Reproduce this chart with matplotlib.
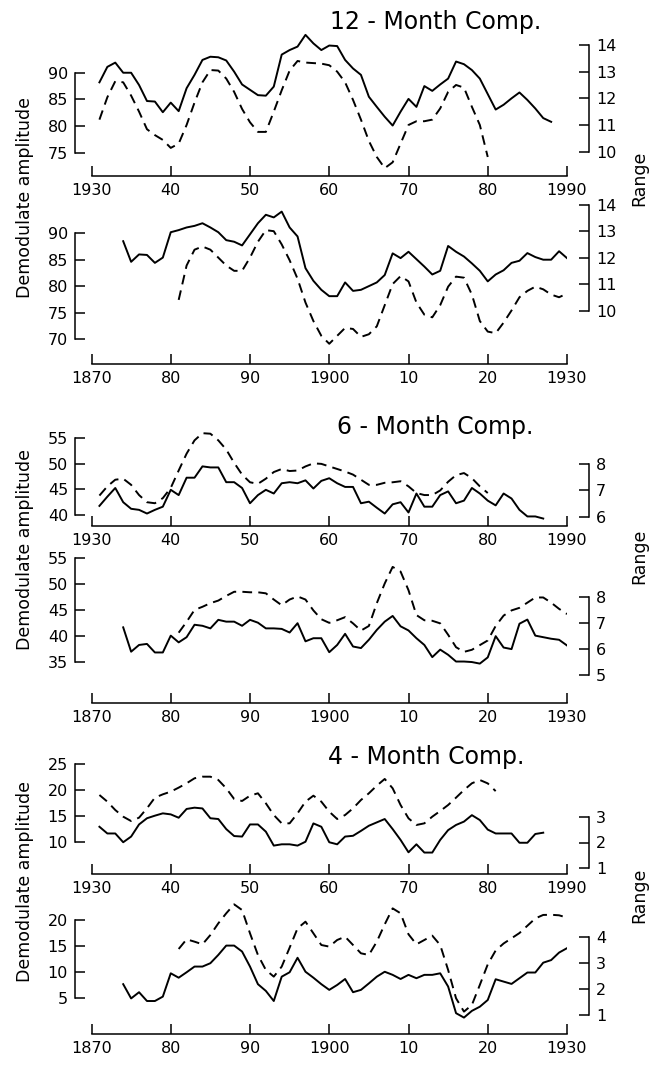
import numpy as np
import matplotlib.pyplot as plt

plt.rcParams['font.family'] = ['DejaVu Sans']

W, H = 651, 1066
fig = plt.figure(figsize=(W / 100, H / 100), dpi=100)

# ---------------- data ----------------
# 12-month component, 1930-1990
yr12a_amp = list(range(1931, 1981))
amp12a = [81.2, 85.4, 88.4, 88.2, 85.7, 82.7, 79.4, 78.3, 77.4, 75.9,
          76.7, 80.2, 84.4, 88.2, 90.5, 90.4, 88.9, 86.4, 83.2, 80.7,
          78.9, 78.9, 82.7, 86.7, 90.4, 92.2, 91.9, 91.8, 91.7, 91.4,
          90.2, 88.2, 84.9, 81.2, 77.2, 74.2, 72.1, 73.2, 76.7, 80.2,
          80.9, 80.9, 81.2, 83.3, 86.4, 87.7, 87.2, 83.6, 80.2, 74.2]
yr12a_rng = list(range(1931, 1989))
rng12a = [12.60, 13.18, 13.34, 12.96, 12.96, 12.50, 11.90, 11.88, 11.48, 11.84,
          11.52, 12.38, 12.88, 13.44, 13.56, 13.54, 13.42, 13.00, 12.52, 12.32,
          12.12, 12.10, 12.44, 13.64, 13.81, 13.94, 14.38, 14.06, 13.81, 13.98,
          13.96, 13.44, 13.12, 12.88, 12.06, 11.68, 11.31, 10.98, 11.50, 11.98,
          11.68, 12.46, 12.28, 12.52, 12.74, 13.38, 13.28, 13.06, 12.74, 12.16,
          11.58, 11.76, 12.00, 12.22, 11.94, 11.62, 11.26, 11.12]

# 12-month component, 1870-1930
yr12b_amp = list(range(1881, 1931))
amp12b = [77.4, 83.9, 86.9, 87.5, 86.9, 85.4, 83.9, 82.9, 82.9, 85.4,
          88.4, 90.6, 90.4, 87.9, 84.9, 81.4, 76.9, 73.4, 70.6, 69.1,
          70.6, 72.1, 71.9, 70.4, 70.9, 72.4, 76.4, 80.4, 81.9, 80.9,
          76.9, 74.6, 74.1, 76.4, 79.9, 81.8, 81.6, 78.4, 73.4, 71.4,
          71.1, 73.1, 75.4, 77.9, 79.1, 79.9, 79.4, 78.4, 77.9, 78.6]
yr12b_rng = list(range(1874, 1931))
rng12b = [12.63, 11.85, 12.13, 12.11, 11.81, 12.01,
          12.97, 13.05, 13.15, 13.21, 13.31, 13.15, 12.97, 12.67, 12.61, 12.47,
          12.89, 13.31, 13.63, 13.53, 13.75, 13.15, 12.81, 11.61, 11.13, 10.79,
          10.55, 10.55, 11.07, 10.75, 10.79, 10.93, 11.07, 11.35, 12.17, 11.99,
          12.23, 11.95, 11.67, 11.37, 11.51, 12.45, 12.23, 12.05, 11.79, 11.51,
          11.11, 11.37, 11.53, 11.81, 11.89, 12.18, 12.03, 11.93, 11.93, 12.25, 11.99]

# 6-month component, 1930-1990
yr6a_amp = list(range(1931, 1981))
amp6a = [43.8, 45.6, 46.9, 47.1, 45.9, 43.9, 42.5, 42.3, 43.3, 45.3,
         48.7, 52.0, 54.6, 56.0, 55.9, 54.6, 52.8, 50.2, 47.9, 46.4,
         46.1, 47.1, 48.4, 49.0, 48.6, 48.7, 49.5, 50.1, 50.0, 49.5,
         49.0, 48.5, 47.9, 46.9, 45.9, 45.9, 46.3, 46.4, 46.6, 45.6,
         44.3, 43.9, 43.9, 44.8, 46.5, 47.8, 48.2, 47.2, 45.6, 44.3]
yr6a_rng = list(range(1931, 1988))
rng6a = [6.41, 6.76, 7.09, 6.55, 6.30, 6.26, 6.12, 6.26, 6.38, 7.02,
         6.82, 7.48, 7.48, 7.91, 7.87, 7.87, 7.31, 7.31, 7.09, 6.51,
         6.82, 7.02, 6.88, 7.27, 7.31, 7.27, 7.38, 7.07, 7.36, 7.46,
         7.27, 7.13, 7.13, 6.51, 6.57, 6.34, 6.12, 6.47, 6.55, 6.16,
         6.88, 6.38, 6.38, 6.82, 6.96, 6.51, 6.61, 7.09, 6.88, 6.61,
         6.43, 6.88, 6.69, 6.26, 6.01, 6.01, 5.93]

# 6-month component, 1870-1930
yr6b_amp = list(range(1881, 1931))
amp6b = [40.6, 42.7, 45.0, 45.6, 46.3, 46.8, 47.7, 48.5, 48.5, 48.4,
         48.4, 48.2, 47.0, 45.9, 47.0, 47.6, 47.0, 44.9, 43.2, 42.5,
         43.0, 43.6, 42.4, 41.0, 41.9, 46.3, 50.1, 53.3, 52.4, 48.8,
         44.0, 43.0, 42.9, 42.4, 40.2, 37.8, 36.9, 37.3, 38.2, 39.1,
         41.9, 43.9, 44.9, 45.4, 46.4, 47.4, 47.4, 46.4, 45.2, 44.2]
yr6b_rng = list(range(1874, 1931))
rng6b = [6.84, 5.90, 6.16, 6.20, 5.87, 5.87,
         6.52, 6.26, 6.46, 6.94, 6.90, 6.80, 7.13, 7.06, 7.06, 6.90,
         7.13, 7.02, 6.80, 6.80, 6.78, 6.64, 7.00, 6.30, 6.42, 6.42,
         5.88, 6.16, 6.59, 6.10, 6.04, 6.36, 6.74, 7.06, 7.28, 6.88,
         6.72, 6.42, 6.16, 5.69, 5.98, 5.78, 5.52, 5.52, 5.50, 5.44,
         5.68, 6.50, 6.06, 6.00, 6.98, 7.14, 6.52, 6.46, 6.40, 6.36, 6.14]

# 4-month component, 1930-1990
yr4a_amp = list(range(1931, 1982))
amp4a = [19.05, 17.76, 16.14, 14.85, 14.0, 14.66, 16.47, 18.54, 19.18, 19.7,
         20.48, 21.32, 22.29, 22.6, 22.6, 21.96, 20.35, 18.28, 17.89, 18.92,
         19.38, 17.44, 15.17, 13.56, 13.56, 15.5, 17.76, 18.92, 17.76, 15.82,
         14.4, 15.17, 16.47, 18.08, 19.38, 20.86, 22.16, 20.35, 17.11, 14.53,
         13.24, 13.56, 14.85, 15.95, 17.11, 18.54, 20.02, 21.32, 21.96, 21.3, 19.8]
yr4a_rng = list(range(1931, 1988))
rng4a = [2.61, 2.35, 2.35, 2.01, 2.23, 2.70, 2.94, 3.04, 3.13, 3.09,
         2.96, 3.30, 3.35, 3.32, 2.94, 2.91, 2.52, 2.25, 2.23, 2.70,
         2.70, 2.42, 1.88, 1.93, 1.93, 1.88, 2.03, 2.74, 2.61, 2.01,
         1.93, 2.23, 2.26, 2.45, 2.65, 2.78, 2.91, 2.52, 2.10, 1.62,
         1.93, 1.61, 1.61, 2.10, 2.48, 2.68, 2.81, 3.06, 2.87, 2.50,
         2.35, 2.35, 2.35, 1.99, 1.99, 2.33, 2.38]

# 4-month component, 1870-1930
yr4b_amp = list(range(1881, 1931))
amp4b = [14.45, 16.3, 15.85, 15.34, 17.13, 19.36, 21.28, 23.0, 21.91, 17.45,
         13.3, 10.43, 9.15, 11.07, 14.7, 18.4, 19.68, 17.45, 15.21, 14.9,
         16.17, 16.8, 15.21, 13.62, 13.3, 15.85, 19.17, 22.23, 21.28, 17.26,
         15.34, 16.17, 17.0, 15.21, 10.43, 5.0, 2.45, 3.73, 7.56, 11.5,
         14.16, 15.5, 16.5, 17.5, 18.9, 20.3, 20.97, 21.0, 20.9, 20.45]
yr4b_rng = list(range(1874, 1931))
rng4b = [2.19, 1.64, 1.88, 1.54, 1.54, 1.71,
         2.61, 2.44, 2.65, 2.87, 2.87, 3.00, 3.32, 3.68, 3.68, 3.45,
         2.87, 2.19, 1.93, 1.54, 2.48, 2.65, 3.21, 2.67, 2.44, 2.19,
         1.97, 2.16, 2.39, 1.88, 1.97, 2.22, 2.48, 2.67, 2.55, 2.39,
         2.55, 2.42, 2.55, 2.55, 2.61, 2.10, 1.07, 0.90, 1.16, 1.32,
         1.58, 2.38, 2.29, 2.20, 2.42, 2.64, 2.64, 3.02, 3.12, 3.41, 3.58]

xlab_late = ['1930', '40', '50', '60', '70', '80', '1990']
xlab_early = ['1870', '80', '90', '1900', '10', '20', '1930']

titles = ['12 - Month Comp.', '6 - Month Comp.', '4 - Month Comp.']

# ---------------- layout (pixels in the 651x1066 picture) ----------------
X0, X1 = 91.5, 567.0          # first / last decade tick
LEFT_SPINE, RIGHT_SPINE = 75.0, 589.0

# (start year, top px, axis px, left ticks, left ref (v,px,v,px),
#  right ticks, right ref, amp years, amp, range years, range, x labels)
panels = [
    (1930, 30, 176, [75, 80, 85, 90], (90, 72.7, 75, 152.7),
     [10, 11, 12, 13, 14], (14, 45.0, 10, 151.7),
     yr12a_amp, amp12a, yr12a_rng, rng12a, xlab_late),
    (1870, 195, 364, [70, 75, 80, 85, 90], (90, 233.3, 70, 339.0),
     [10, 11, 12, 13, 14], (14, 205.0, 10, 310.7),
     yr12b_amp, amp12b, yr12b_rng, rng12b, xlab_early),
    (1930, 425, 526, [40, 45, 50, 55], (55, 438.3, 40, 515.0),
     [6, 7, 8], (8, 464.0, 6, 516.7),
     yr6a_amp, amp6a, yr6a_rng, rng6a, xlab_late),
    (1870, 550, 703, [35, 40, 45, 50, 55], (50, 584.0, 35, 661.7),
     [5, 6, 7, 8], (8, 597.3, 5, 675.0),
     yr6b_amp, amp6b, yr6b_rng, rng6b, xlab_early),
    (1930, 760, 874, [10, 15, 20, 25], (25, 764.3, 10, 841.7),
     [1, 2, 3], (3, 816.7, 1, 868.3),
     yr4a_amp, amp4a, yr4a_rng, rng4a, xlab_late),
    (1870, 895, 1034, [5, 10, 15, 20], (20, 920.0, 5, 998.3),
     [1, 2, 3, 4], (4, 937.3, 1, 1015.0),
     yr4b_amp, amp4b, yr4b_rng, rng4b, xlab_early),
]


def lims(ref, top, bottom):
    v1, p1, v2, p2 = ref
    s = (v1 - v2) / (p2 - p1)
    return v2 - (bottom - p2) * s, v1 + (p1 - top) * s


PT = 72.0 / 100.0   # points per pixel
lw_axis = 1.1
tick_kw = dict(direction='in', length=7, width=lw_axis, labelsize=11.5, pad=5)

for (y0, top, bot, lt, lref, rt, rref, ya, va, yr, vr, xl) in panels:
    ax = fig.add_axes([X0 / W, 1 - bot / H, (X1 - X0) / W, (bot - top) / H])
    ax.patch.set_visible(False)
    ax.set_xlim(y0, y0 + 60)
    ax.set_ylim(*lims(lref, top, bot))
    ax.set_xticks(range(y0, y0 + 61, 10), xl)
    ax.set_yticks(lt)
    for s in ('top', 'right'):
        ax.spines[s].set_visible(False)
    ax.spines['left'].set_position(('outward', (X0 - LEFT_SPINE) * PT))
    ax.spines['left'].set_bounds(lt[0], lt[-1])
    for s in ('left', 'bottom'):
        ax.spines[s].set_linewidth(lw_axis)
    ax.tick_params(**tick_kw)

    ax2 = ax.twinx()
    ax2.patch.set_visible(False)
    ax2.set_ylim(*lims(rref, top, bot))
    ax2.set_yticks(rt)
    for s in ('top', 'left', 'bottom'):
        ax2.spines[s].set_visible(False)
    ax2.spines['right'].set_position(('outward', (RIGHT_SPINE - X1) * PT))
    ax2.spines['right'].set_bounds(rt[0], rt[-1])
    ax2.spines['right'].set_linewidth(lw_axis)
    ax2.tick_params(axis='y', **tick_kw)

    ax.plot(ya, va, color='black', lw=1.4, dashes=(5, 3.2))
    ax2.plot(yr, vr, color='black', lw=1.4)

# titles and axis names
for t, (x, y) in zip(titles, [(436, 22), (435, 427), (426, 757)]):
    fig.text(x / W, 1 - y / H, t, ha='center', va='center', fontsize=17)

for y in (198, 550, 882):
    fig.text(25 / W, 1 - y / H, 'Demodulate amplitude', rotation=90,
             ha='center', va='center', fontsize=12.5)
for y in (178, 556, 895):
    fig.text(639 / W, 1 - y / H, 'Range', rotation=90,
             ha='center', va='center', fontsize=12.5)

fig.savefig('out.png', dpi=100, facecolor='white')
